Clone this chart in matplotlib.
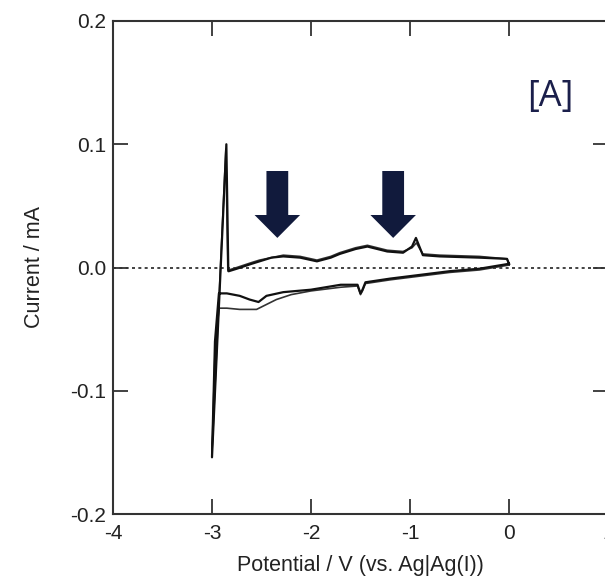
import numpy as np
import matplotlib
matplotlib.use("Agg")
import matplotlib.pyplot as plt
from matplotlib.patches import FancyArrow

plt.rcParams['font.family'] = ['Liberation Sans', 'DejaVu Sans']
plt.rcParams['axes.unicode_minus'] = False

# cycle 1: cathodic sweep from 0 V to -3 V, then back to 0 V
cycle1_E = [0.0, -0.3, -0.6, -0.9, -1.2, -1.45, -1.48, -1.50, -1.53, -1.7, -2.0,
            -2.28, -2.45, -2.53, -2.62, -2.72, -2.85, -2.93, -2.97, -3.0,
            -2.855, -2.835, -2.83, -2.75, -2.6, -2.52, -2.4, -2.28, -2.11,
            -1.94, -1.8, -1.71, -1.55, -1.43, -1.23, -1.07, -0.98, -0.94,
            -0.90, -0.87, -0.7, -0.3, -0.02, 0.0]
cycle1_I = [0.003, -0.001, -0.003, -0.006, -0.009, -0.012, -0.018, -0.021, -0.014,
            -0.014, -0.018, -0.020, -0.023, -0.028, -0.026, -0.023, -0.021,
            -0.021, -0.060, -0.154, 0.100, -0.003, -0.003, -0.001, 0.003,
            0.005, 0.008, 0.009, 0.008, 0.005, 0.008, 0.011, 0.015, 0.017,
            0.013, 0.012, 0.017, 0.024, 0.016, 0.010, 0.009, 0.008, 0.007,
            0.003]

# cycle 2: same window, slightly lower cathodic current below -2.2 V
cycle2_E = [0.0, -0.3, -0.6, -0.9, -1.2, -1.45, -1.48, -1.50, -1.53, -1.7, -2.0,
            -2.2, -2.35, -2.45, -2.55, -2.72, -2.85, -2.93, -2.97, -3.0,
            -2.86, -2.84, -2.83, -2.75, -2.6, -2.52, -2.4, -2.28, -2.11,
            -1.94, -1.8, -1.71, -1.55, -1.43, -1.23, -1.07, -0.98, -0.935,
            -0.90, -0.87, -0.7, -0.3, -0.02, 0.0]
cycle2_I = [0.002, -0.002, -0.004, -0.007, -0.010, -0.013, -0.019, -0.022, -0.015,
            -0.016, -0.019, -0.022, -0.026, -0.030, -0.034, -0.034, -0.033,
            -0.033, -0.070, -0.150, 0.096, -0.002, -0.002, 0.000, 0.004,
            0.006, 0.008, 0.010, 0.009, 0.006, 0.009, 0.012, 0.016, 0.018,
            0.014, 0.013, 0.016, 0.020, 0.015, 0.011, 0.010, 0.009, 0.007,
            0.002]

arrow_E = [-2.34, -1.17]

fig = plt.figure(figsize=(6.05, 5.86), dpi=100)
ax = fig.add_axes([113 / 605, 72 / 586, 495 / 605, 493 / 586])

ax.axhline(0, color='#222222', lw=1.2, ls=(0, (1.8, 2.0)), zorder=1)
ax.plot(cycle1_E, cycle1_I, color='#111111', lw=1.6, zorder=3)
ax.plot(cycle2_E, cycle2_I, color='#333333', lw=1.2, zorder=2)

for xa in arrow_E:
    ax.add_patch(FancyArrow(xa, 0.0783, 0, -0.0543, width=0.22,
                            head_width=0.46, head_length=0.0186,
                            length_includes_head=True, color='#111a3c',
                            lw=0, zorder=4))

ax.text(0.42, 0.138, '[A]', color='#1b1f4b', fontsize=26,
        family=['Open Sans', 'DejaVu Sans'], ha='center', va='center')

ax.set_xlim(-4, 1)
ax.set_ylim(-0.2, 0.2)
ax.set_xticks([-4, -3, -2, -1, 0, 1])
ax.set_yticks([-0.2, -0.1, 0.0, 0.1, 0.2])
ax.set_yticklabels(['-0.2', '-0.1', '0.0', '0.1', '0.2'])
ax.tick_params(direction='in', length=11, width=1.3, color='#333333',
               labelsize=15, labelcolor='#222222', top=True, right=True, pad=5)
ax.tick_params(axis='x', pad=7)
for sp in ax.spines.values():
    sp.set_linewidth(1.5)
    sp.set_color('#333333')

ax.set_xlabel('Potential / V (vs. Ag|Ag(I))', fontsize=15.5, color='#222222',
              labelpad=9)
ax.set_ylabel('Current / mA', fontsize=15.5, color='#222222', labelpad=18)

fig.savefig('out.png', dpi=100)
